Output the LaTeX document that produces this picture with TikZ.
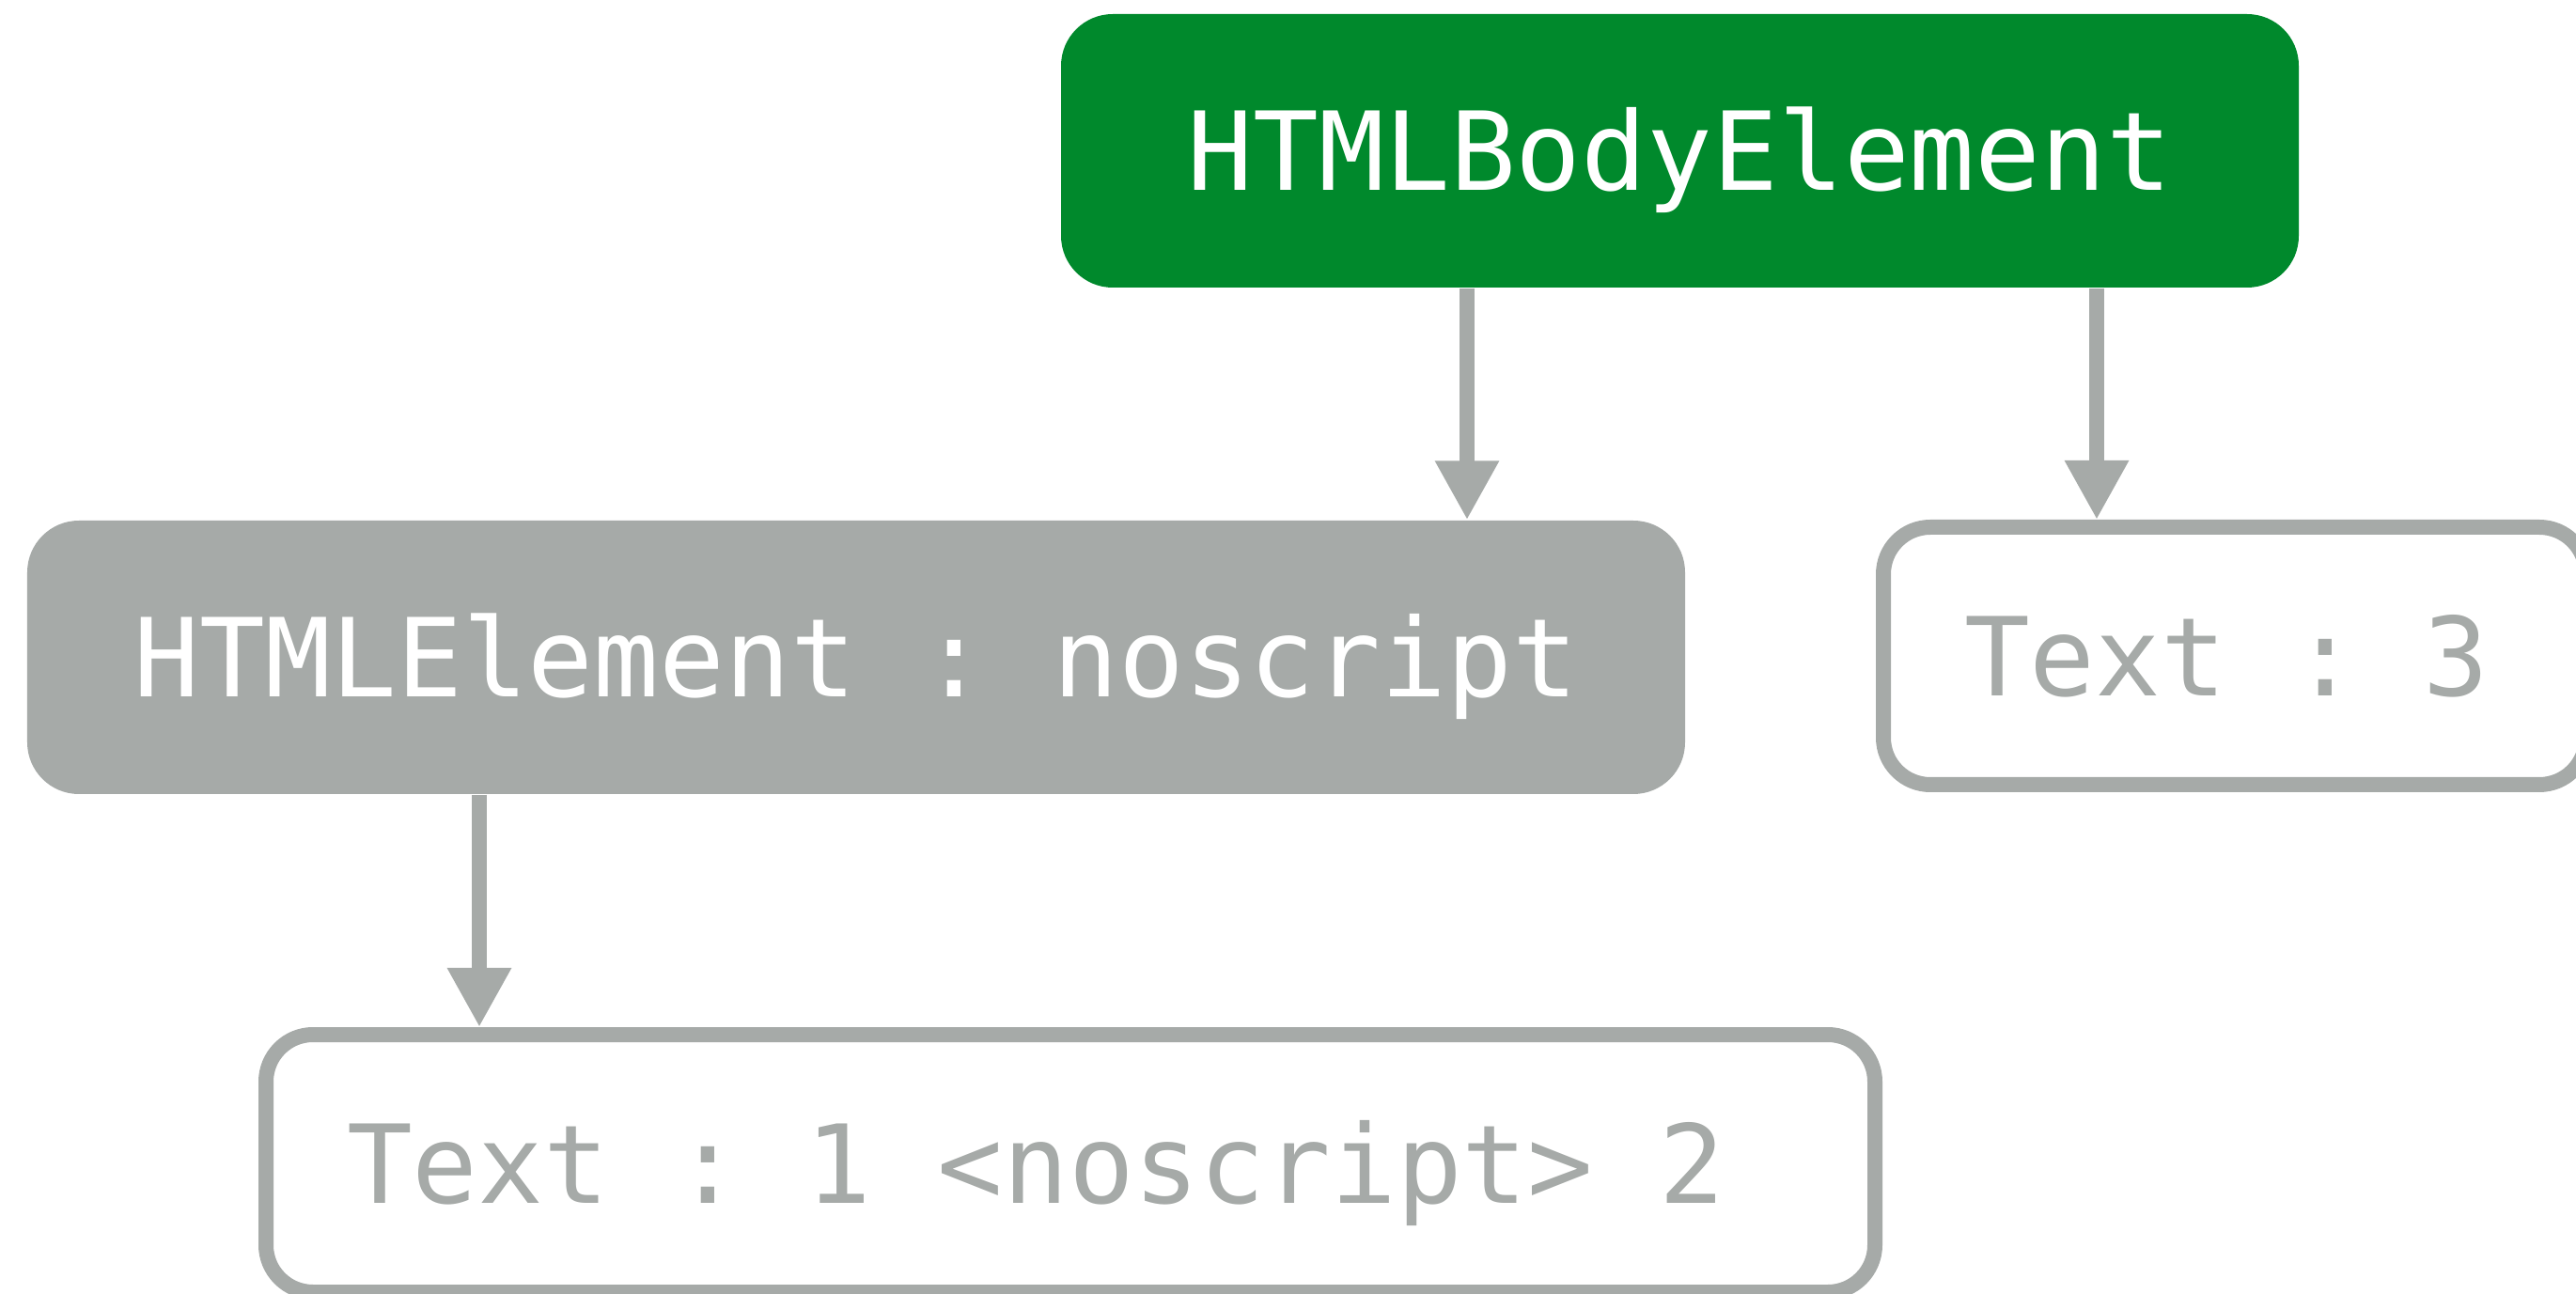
\documentclass[tikz,border=0pt]{standalone}
\usepackage{fontspec}
\setmonofont{DejaVu Sans Mono}
\usetikzlibrary{arrows.meta}
\definecolor{bodygreen}{HTML}{00892C}
\definecolor{treegrey}{HTML}{A6AAA8}
\tikzset{
  elembox/.style={rounded corners=0.55cm, inner sep=0pt, minimum height=2.91cm, text=white,
    font=\ttfamily\fontsize{33}{40}\selectfont, text height=0.85cm, text depth=0cm, fill=treegrey},
  bodybox/.style={elembox, fill=bodygreen},
  textbox/.style={elembox, fill=none, draw=treegrey, line width=0.16cm, rounded corners=0.5cm,
    text=treegrey, minimum height=2.74cm, inner xsep=0.86cm},
  link/.style={draw=treegrey, line width=0.155cm, -{Triangle[width=0.64cm,length=0.63cm]}}
}
\begin{document}
\begin{tikzpicture}
\def\xa{5.10}
\def\xb{15.61}
\def\xc{22.31}

\useasboundingbox (0,0) rectangle (27.41,13.76);
\clip (0,0) rectangle (27.41,13.76);

\node[bodybox, minimum width=13.17cm] (body) at (17.875,12.155) {HTMLBodyElement};
\node[elembox, minimum width=17.64cm] (noscript) at (9.11,6.765) {HTMLElement : noscript};
\node[textbox] (text3) at (23.78,6.78) {\makebox[5.76cm][l]{Text : 3}};
\node[textbox] (text1) at (11.39,1.38) {\makebox[15.40cm][l]{Text : 1 <noscript> 2}};

\coordinate (ca) at (\xa,0);
\coordinate (cb) at (\xb,0);
\coordinate (cc) at (\xc,0);

\draw[link] (body.south -| cb) -- (noscript.north -| cb);
\draw[link] (body.south -| cc) -- (text3.north -| cc);
\draw[link] (noscript.south -| ca) -- (text1.north -| ca);

\end{tikzpicture}
\end{document}
